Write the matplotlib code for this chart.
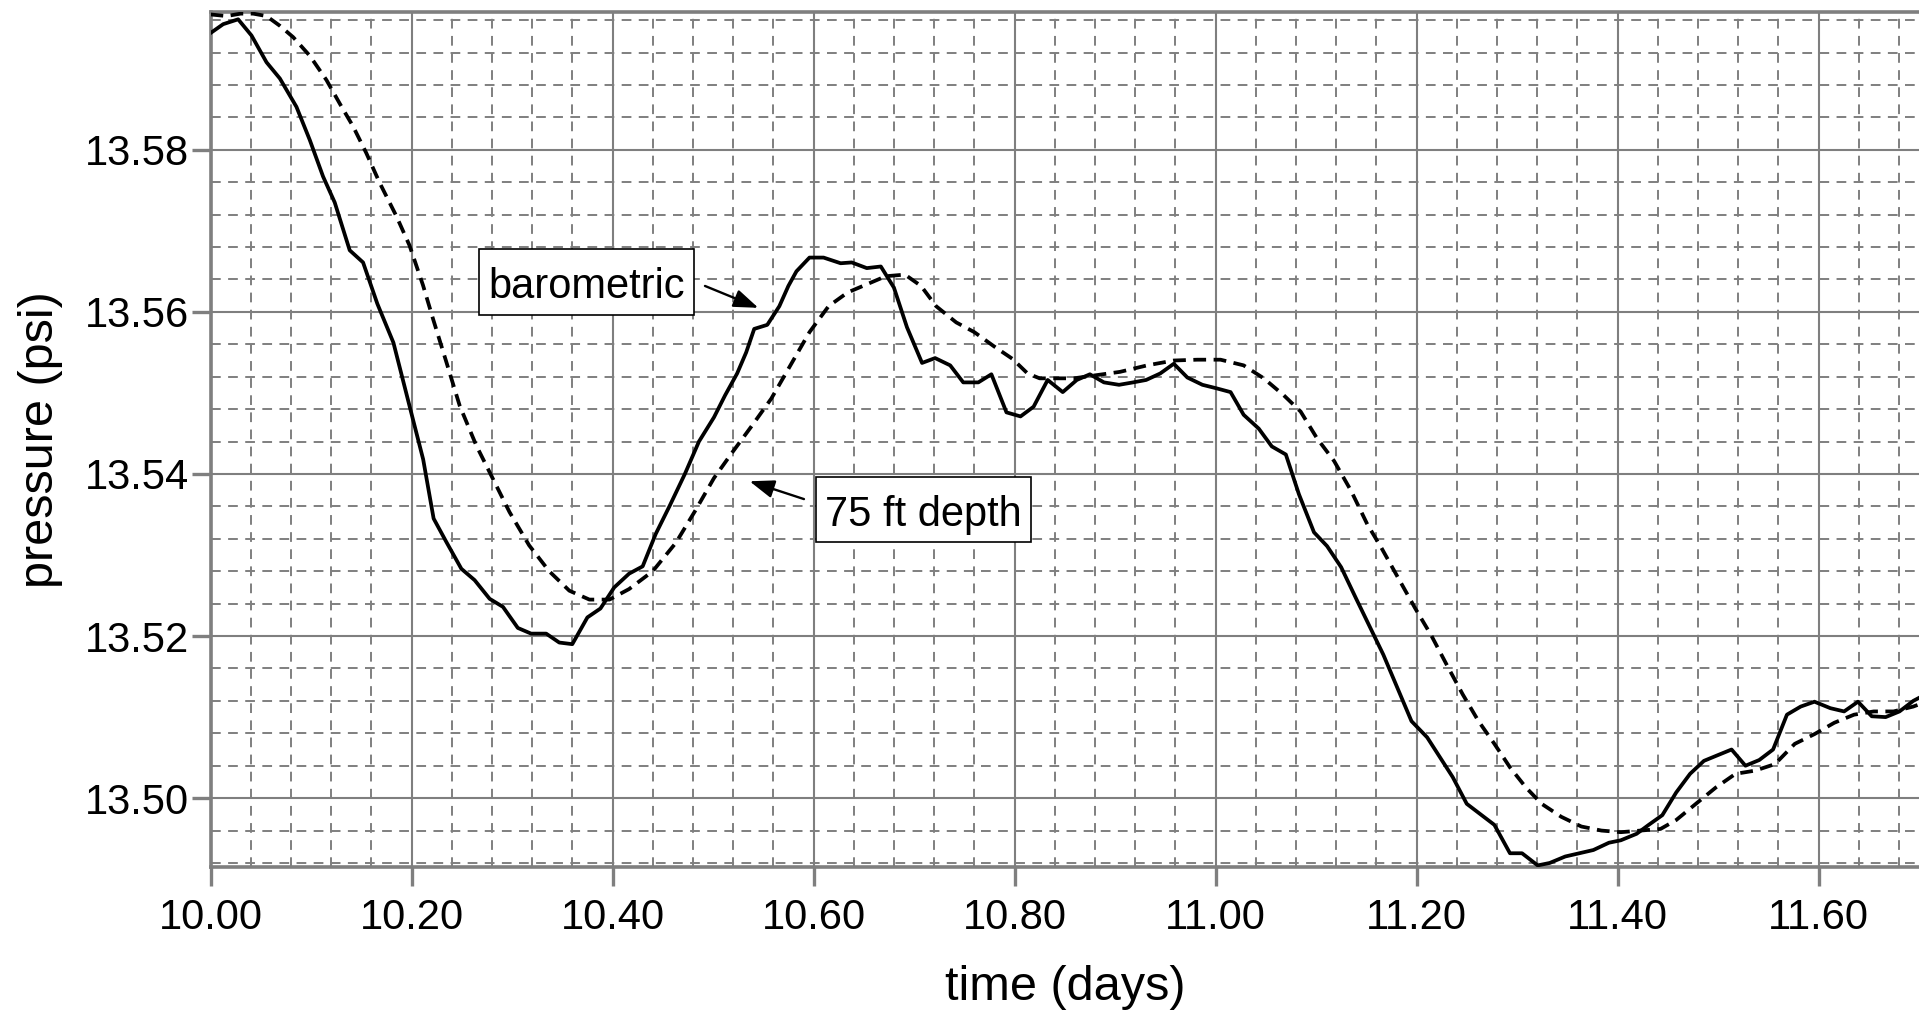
import matplotlib
matplotlib.use("Agg")
import matplotlib.pyplot as plt
from matplotlib.path import Path
from matplotlib.ticker import MultipleLocator, FormatStrFormatter

plt.rcParams['font.family'] = ['Liberation Sans', 'DejaVu Sans']

# barometric pressure (solid line)
baro_time = [10.000, 10.0126, 10.0275, 10.0408, 10.0557, 10.069, 10.0855, 10.0988, 10.112, 10.1236,
             10.1385, 10.1518, 10.166, 10.182, 10.198, 10.2116, 10.222, 10.2347, 10.2496, 10.2628,
             10.2777, 10.291, 10.3058, 10.319, 10.334, 10.347, 10.360, 10.375, 10.388, 10.4017,
             10.4165, 10.430, 10.443, 10.457, 10.472, 10.486, 10.501, 10.512, 10.524, 10.533,
             10.541, 10.554, 10.566, 10.575, 10.583, 10.596, 10.610, 10.627, 10.638, 10.653,
             10.667, 10.680, 10.693, 10.708, 10.721, 10.736, 10.749, 10.764, 10.777, 10.792,
             10.806, 10.819, 10.833, 10.848, 10.862, 10.875, 10.889, 10.904, 10.918, 10.931,
             10.945, 10.9585, 10.972, 10.987, 11.000, 11.015, 11.028, 11.043, 11.056, 11.070,
             11.083, 11.098, 11.111, 11.125, 11.140, 11.167, 11.195, 11.2106, 11.236, 11.250,
             11.2775, 11.293, 11.305, 11.3206, 11.3325, 11.348, 11.376, 11.3915, 11.4033, 11.419,
             11.431, 11.4446, 11.4584, 11.4722, 11.486, 11.4997, 11.5135, 11.5273, 11.541, 11.5548,
             11.5686, 11.5823, 11.596, 11.6118, 11.6255, 11.6393, 11.653, 11.6668, 11.6806, 11.6943,
             11.705]
baro_psi = [13.5944, 13.5955, 13.5961, 13.5941, 13.5908, 13.5888, 13.5853, 13.5812, 13.5767, 13.5735,
            13.5676, 13.5661, 13.5610, 13.5562, 13.5484, 13.5418, 13.5345, 13.5316, 13.5283, 13.5269,
            13.5246, 13.5236, 13.5210, 13.5203, 13.5203, 13.5192, 13.5190, 13.5223, 13.5234, 13.5260,
            13.5277, 13.5286, 13.5326, 13.5361, 13.5400, 13.5440, 13.5470, 13.5497, 13.5524, 13.5550,
            13.5579, 13.5584, 13.5607, 13.5632, 13.5650, 13.5667, 13.5667, 13.5660, 13.5661, 13.5654,
            13.5656, 13.5630, 13.5581, 13.5537, 13.5543, 13.5534, 13.5513, 13.5513, 13.5523, 13.5476,
            13.5471, 13.5483, 13.5516, 13.5501, 13.5516, 13.5523, 13.5513, 13.5510, 13.5513, 13.5516,
            13.5524, 13.5536, 13.5519, 13.5510, 13.5506, 13.5501, 13.5473, 13.5456, 13.5434, 13.5424,
            13.5375, 13.5328, 13.5311, 13.5285, 13.5246, 13.5177, 13.5095, 13.5075, 13.5026, 13.4993,
            13.4967, 13.4932, 13.4932, 13.4917, 13.4920, 13.4928, 13.4936, 13.4945, 13.4948, 13.4956,
            13.4967, 13.4979, 13.5007, 13.5030, 13.5046, 13.5053, 13.5060, 13.5040, 13.5047, 13.5060,
            13.5103, 13.5113, 13.5119, 13.5111, 13.5107, 13.5119, 13.5101, 13.5100, 13.5107, 13.5120,
            13.5127]

# pressure at 75 ft depth (dashed line)
depth_time = [10.000, 10.016, 10.030, 10.0424, 10.0557, 10.069, 10.0822, 10.0988, 10.1154, 10.1286,
              10.1418, 10.155, 10.1684, 10.185, 10.198, 10.2114, 10.2215, 10.2347, 10.248, 10.2645,
              10.281, 10.2975, 10.317, 10.337, 10.357, 10.377, 10.397, 10.4165, 10.440, 10.463,
              10.482, 10.501, 10.520, 10.539, 10.558, 10.577, 10.596, 10.615, 10.634, 10.653,
              10.672, 10.691, 10.707, 10.722, 10.742, 10.760, 10.779, 10.798, 10.813, 10.825,
              10.8355, 10.859, 10.882, 10.905, 10.932, 10.9585, 10.982, 11.005, 11.028, 11.048,
              11.068, 11.0847, 11.101, 11.118, 11.135, 11.151, 11.165, 11.183, 11.1988, 11.2146,
              11.2303, 11.246, 11.2617, 11.2775, 11.293, 11.309, 11.3245, 11.344, 11.364, 11.384,
              11.4033, 11.423, 11.4428, 11.4584, 11.478, 11.4977, 11.5174, 11.5371, 11.5567, 11.5764,
              11.596, 11.6157, 11.6354, 11.655, 11.6747, 11.6943, 11.705]
depth_psi = [13.5967, 13.5965, 13.5968, 13.5968, 13.5965, 13.5953, 13.5939, 13.5916, 13.5886, 13.5857,
             13.5829, 13.5796, 13.5759, 13.5718, 13.5682, 13.5633, 13.5591, 13.5538, 13.5484, 13.5435,
             13.5394, 13.5353, 13.5312, 13.5280, 13.5256, 13.5245, 13.5245, 13.5258, 13.5280, 13.5315,
             13.5354, 13.5395, 13.5428, 13.5460, 13.5493, 13.5534, 13.5575, 13.5607, 13.5624, 13.5634,
             13.5644, 13.5646, 13.5632, 13.5607, 13.5587, 13.5575, 13.5558, 13.5542, 13.5524, 13.5518,
             13.5518, 13.5518, 13.5522, 13.5526, 13.5534, 13.5540, 13.5541, 13.5541, 13.5534, 13.5518,
             13.5497, 13.5477, 13.5444, 13.5416, 13.5379, 13.5338, 13.5309, 13.5269, 13.5234, 13.5201,
             13.5164, 13.5128, 13.5095, 13.5067, 13.5038, 13.5013, 13.4993, 13.4977, 13.4965, 13.4960,
             13.4958, 13.4960, 13.4962, 13.4973, 13.4993, 13.5013, 13.5030, 13.5034, 13.5042, 13.5067,
             13.5079, 13.5093, 13.5103, 13.5107, 13.5107, 13.5113, 13.5118]

gray = '#7f7f7f'


# label box: more room above the text than below, like the original
def label_box(x0, y0, width, height, mutation_size):
    padx = 0.22 * mutation_size
    ptop = 0.43 * mutation_size
    pbot = 0.18 * mutation_size
    x0, x1 = x0 - padx, x0 + width + padx
    y0, y1 = y0 - pbot, y0 + height + ptop
    return Path([(x0, y0), (x1, y0), (x1, y1), (x0, y1), (x0, y0)], closed=True)


fig = plt.figure(figsize=(19.19, 10.18), dpi=100)
ax = fig.add_axes([0.1097, 0.1483, 0.8903, 0.8399])

ax.plot(baro_time, baro_psi, color='black', lw=2.7, zorder=3)
ax.plot(depth_time, depth_psi, color='black', lw=2.7, ls=(0, (3.4, 2.0)), zorder=3)

ax.set_xlim(10.0, 11.70)
ax.set_ylim(13.4915, 13.597)

ax.xaxis.set_major_locator(MultipleLocator(0.2))
ax.xaxis.set_minor_locator(MultipleLocator(0.04))
ax.yaxis.set_major_locator(MultipleLocator(0.02))
ax.yaxis.set_minor_locator(MultipleLocator(0.004))
ax.xaxis.set_major_formatter(FormatStrFormatter('%.2f'))
ax.yaxis.set_major_formatter(FormatStrFormatter('%.2f'))

ax.grid(which='major', color=gray, lw=1.5, ls='-', zorder=0)
ax.grid(which='minor', color=gray, lw=1.4, ls=(0, (5, 3.8)), zorder=0)
ax.set_axisbelow(True)

ax.tick_params(which='major', direction='out', length=14, width=2.4, color=gray,
               labelsize=30, labelcolor='black')
ax.tick_params(axis='y', which='major', pad=1.5)
ax.tick_params(axis='x', which='major', pad=8)
ax.tick_params(which='minor', length=0)

for side in ['left', 'bottom', 'top']:
    ax.spines[side].set_color(gray)
    ax.spines[side].set_linewidth(2.6)
ax.spines['right'].set_visible(False)

ax.set_xlabel('time (days)', fontsize=35, labelpad=20)
ax.set_ylabel('pressure (psi)', fontsize=35, labelpad=16)

box = dict(boxstyle=label_box, fc='white', ec='black', lw=1.2)
arrow = dict(arrowstyle='-|>,head_length=1.5,head_width=0.55', color='black', lw=1.7,
             shrinkA=0, shrinkB=0)

ax.annotate('', xy=(10.5451, 13.5605), xytext=(10.4920, 13.5632), arrowprops=arrow, zorder=5)
ax.text(10.374, 13.5617, 'barometric', fontsize=30, ha='center', va='baseline', bbox=box, zorder=6)

ax.annotate('', xy=(10.5364, 13.5391), xytext=(10.5905, 13.5369), arrowprops=arrow, zorder=5)
ax.text(10.709, 13.5336, '75 ft depth', fontsize=30, ha='center', va='baseline', bbox=box, zorder=6)

fig.savefig('out.png', dpi=100)
